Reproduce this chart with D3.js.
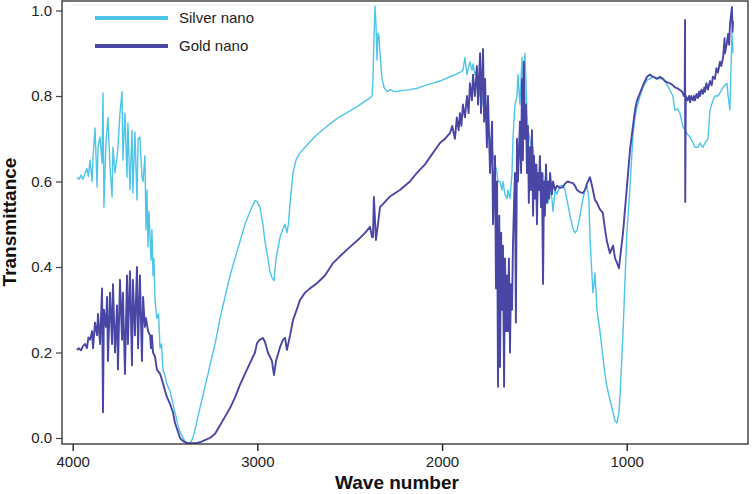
<!DOCTYPE html>
<html>
<head>
<meta charset="utf-8">
<script src="https://cdn.jsdelivr.net/npm/d3@7"></script>
<style>
  html, body { margin: 0; padding: 0; background: #fff; }
  svg { display: block; font-family: "Liberation Sans", Arial, sans-serif; }
</style>
</head>
<body>
<svg id="chart" width="752" height="494"></svg>
<script>
// ---------- DATA ----------
const seriesNames = ["Silver nano", "Gold nano"];
const xTicks = [4000, 3000, 2000, 1000];
const yTicks = [0.0, 0.2, 0.4, 0.6, 0.8, 1.0];

// [wave number, transmittance]
const silverData = [
[3977,0.61],[3965,0.605],[3955,0.615],[3945,0.605],[3933,0.62],[3923,0.63],[3915,0.612],[3906,0.65],
[3895,0.60],[3890,0.657],[3879,0.725],[3868,0.587],[3863,0.68],[3852,0.704],[3841,0.643],[3836,0.807],
[3831,0.54],[3820,0.69],[3809,0.75],[3798,0.634],[3787,0.564],[3782,0.68],[3771,0.62],[3760,0.657],
[3755,0.68],[3744,0.76],[3733,0.81],[3728,0.65],[3717,0.76],[3706,0.61],[3701,0.737],[3690,0.58],
[3679,0.72],[3674,0.573],[3663,0.716],[3652,0.557],[3646,0.70],[3636,0.704],[3625,0.61],[3619,0.60],
[3609,0.66],[3603,0.487],[3598,0.58],[3592,0.447],[3587,0.53],[3576,0.416],[3571,0.487],[3565,0.38],
[3560,0.42],[3554,0.32],[3544,0.28],[3535,0.29],[3527,0.21],[3519,0.22],[3511,0.16],[3500,0.145],
[3489,0.125],[3473,0.11],[3457,0.08],[3446,0.06],[3430,0.03],[3419,0.015],[3408,0.005],[3392,-0.008],
[3376,-0.012],[3365,-0.012],[3354,-0.005],[3343,0.01],[3332,0.03],[3322,0.05],[3311,0.07],[3294,0.10],
[3284,0.12],[3267,0.15],[3257,0.17],[3229,0.22],[3202,0.28],[3175,0.33],[3148,0.38],[3121,0.42],
[3094,0.46],[3067,0.50],[3040,0.53],[3024,0.545],[3013,0.555],[3002,0.553],[2986,0.54],[2970,0.50],
[2959,0.46],[2943,0.42],[2932,0.39],[2921,0.375],[2910,0.368],[2899,0.42],[2877,0.47],[2861,0.49],
[2850,0.50],[2840,0.48],[2832,0.50],[2823,0.55],[2807,0.62],[2791,0.65],[2769,0.667],[2742,0.68],
[2715,0.693],[2677,0.71],[2634,0.725],[2591,0.74],[2553,0.752],[2498,0.765],[2471,0.772],[2444,0.78],
[2417,0.788],[2390,0.795],[2379,0.80],[2374,0.84],[2369,0.93],[2363,1.01],[2358,0.97],[2352,0.884],
[2347,0.947],[2341,0.94],[2336,0.90],[2325,0.84],[2314,0.82],[2298,0.81],[2282,0.815],[2255,0.81],
[2228,0.812],[2174,0.815],[2136,0.818],[2092,0.825],[2049,0.83],[2011,0.835],[1984,0.84],[1957,0.845],
[1930,0.85],[1903,0.855],[1887,0.86],[1876,0.89],[1865,0.85],[1849,0.88],[1838,0.86],[1832,0.875],
[1822,0.85],[1811,0.86],[1805,0.83],[1794,0.80],[1789,0.82],[1778,0.78],[1767,0.76],[1757,0.74],
[1751,0.72],[1740,0.70],[1729,0.68],[1724,0.66],[1713,0.64],[1702,0.62],[1697,0.60],[1686,0.60],
[1675,0.58],[1670,0.60],[1659,0.57],[1648,0.56],[1643,0.58],[1632,0.56],[1621,0.62],[1616,0.70],
[1605,0.78],[1594,0.80],[1589,0.85],[1578,0.78],[1567,0.89],[1562,0.80],[1551,0.90],[1540,0.76],
[1535,0.72],[1524,0.70],[1513,0.66],[1507,0.68],[1497,0.62],[1486,0.64],[1481,0.60],[1470,0.60],
[1459,0.56],[1453,0.62],[1443,0.58],[1432,0.60],[1426,0.55],[1415,0.58],[1405,0.56],[1399,0.53],
[1388,0.58],[1378,0.57],[1361,0.59],[1345,0.59],[1334,0.58],[1320,0.55],[1307,0.52],[1291,0.49],
[1280,0.48],[1269,0.485],[1253,0.52],[1237,0.56],[1226,0.58],[1215,0.59],[1205,0.56],[1199,0.47],
[1188,0.38],[1183,0.34],[1177,0.36],[1172,0.386],[1166,0.34],[1161,0.30],[1145,0.25],[1129,0.19],
[1118,0.15],[1107,0.12],[1091,0.09],[1074,0.06],[1063,0.04],[1053,0.035],[1042,0.06],[1036,0.10],
[1020,0.245],[1010,0.36],[999,0.48],[982,0.587],[966,0.71],[955,0.75],[944,0.774],[928,0.80],
[912,0.82],[890,0.837],[874,0.84],[858,0.845],[836,0.843],[820,0.84],[804,0.842],[793,0.835],
[780,0.825],[766,0.814],[750,0.80],[739,0.767],[725,0.77],[712,0.76],[695,0.727],[684,0.72],
[670,0.71],[657,0.704],[641,0.69],[630,0.68],[614,0.68],[603,0.69],[587,0.68],[576,0.69],
[560,0.70],[549,0.767],[533,0.79],[522,0.80],[506,0.80],[495,0.807],[478,0.82],[468,0.825],
[457,0.83],[451,0.80],[441,0.767],[435,0.868],[430,0.947],[424,0.90]
];

const goldData = [
[3977,0.206],[3967,0.21],[3955,0.205],[3945,0.215],[3933,0.22],[3923,0.21],[3915,0.235],[3906,0.23],
[3895,0.25],[3890,0.21],[3879,0.27],[3868,0.24],[3863,0.29],[3852,0.22],[3841,0.35],[3836,0.06],
[3831,0.30],[3820,0.26],[3814,0.33],[3809,0.18],[3798,0.34],[3787,0.22],[3782,0.36],[3771,0.20],
[3760,0.31],[3755,0.16],[3744,0.37],[3733,0.23],[3728,0.34],[3717,0.15],[3706,0.38],[3701,0.22],
[3690,0.39],[3679,0.17],[3674,0.37],[3663,0.24],[3652,0.40],[3646,0.21],[3636,0.38],[3625,0.18],
[3619,0.33],[3609,0.26],[3603,0.28],[3592,0.25],[3581,0.24],[3576,0.21],[3571,0.24],[3565,0.20],
[3554,0.19],[3544,0.16],[3527,0.15],[3511,0.128],[3500,0.11],[3489,0.095],[3473,0.08],[3457,0.06],
[3446,0.035],[3430,0.015],[3419,0.0],[3408,-0.005],[3392,-0.01],[3376,-0.012],[3354,-0.012],[3332,-0.012],
[3311,-0.01],[3284,-0.005],[3257,0.0],[3229,0.01],[3202,0.03],[3175,0.05],[3148,0.07],[3121,0.095],
[3094,0.125],[3067,0.15],[3040,0.175],[3013,0.20],[3002,0.222],[2986,0.23],[2970,0.234],[2959,0.225],
[2943,0.20],[2921,0.18],[2910,0.147],[2899,0.18],[2877,0.213],[2861,0.23],[2850,0.234],[2840,0.206],
[2823,0.24],[2807,0.276],[2791,0.295],[2769,0.323],[2742,0.34],[2715,0.35],[2677,0.362],[2634,0.38],
[2591,0.409],[2553,0.425],[2498,0.447],[2444,0.468],[2417,0.48],[2390,0.494],[2379,0.47],[2374,0.47],
[2369,0.564],[2358,0.463],[2347,0.50],[2336,0.54],[2314,0.55],[2282,0.565],[2228,0.58],[2174,0.60],
[2136,0.62],[2092,0.64],[2049,0.667],[2011,0.69],[1984,0.70],[1957,0.713],[1945,0.73],[1930,0.70],
[1920,0.75],[1910,0.72],[1903,0.76],[1895,0.73],[1887,0.78],[1876,0.75],[1865,0.80],[1856,0.76],
[1849,0.83],[1838,0.79],[1832,0.85],[1822,0.80],[1811,0.87],[1805,0.78],[1794,0.90],[1789,0.76],
[1778,0.91],[1772,0.74],[1767,0.84],[1757,0.68],[1751,0.80],[1740,0.62],[1729,0.74],[1724,0.50],
[1713,0.66],[1708,0.35],[1702,0.60],[1697,0.12],[1690,0.52],[1686,0.166],[1680,0.48],[1675,0.30],
[1670,0.45],[1664,0.12],[1659,0.42],[1652,0.25],[1648,0.38],[1643,0.25],[1638,0.42],[1632,0.20],
[1627,0.36],[1621,0.30],[1616,0.45],[1610,0.55],[1605,0.62],[1600,0.27],[1594,0.70],[1589,0.60],
[1578,0.74],[1572,0.62],[1567,0.84],[1562,0.65],[1557,0.88],[1551,0.70],[1546,0.78],[1540,0.62],
[1535,0.73],[1530,0.55],[1524,0.68],[1518,0.58],[1513,0.72],[1507,0.52],[1502,0.66],[1497,0.56],
[1491,0.64],[1486,0.50],[1481,0.62],[1475,0.58],[1470,0.66],[1464,0.54],[1459,0.62],[1453,0.36],
[1448,0.60],[1443,0.52],[1437,0.64],[1432,0.55],[1426,0.60],[1420,0.56],[1415,0.62],[1405,0.57],
[1399,0.60],[1388,0.58],[1378,0.59],[1361,0.585],[1345,0.587],[1334,0.595],[1320,0.60],[1307,0.598],
[1291,0.596],[1280,0.59],[1269,0.58],[1253,0.575],[1237,0.573],[1226,0.58],[1215,0.595],[1199,0.61],
[1188,0.59],[1172,0.557],[1161,0.55],[1145,0.535],[1129,0.526],[1118,0.49],[1107,0.46],[1091,0.432],
[1074,0.45],[1063,0.42],[1053,0.41],[1042,0.397],[1036,0.42],[1020,0.48],[999,0.587],[982,0.674],
[966,0.73],[955,0.767],[944,0.79],[928,0.807],[912,0.825],[890,0.845],[874,0.85],[858,0.845],
[836,0.84],[820,0.845],[804,0.84],[793,0.835],[780,0.832],[766,0.83],[750,0.825],[739,0.82],
[725,0.818],[712,0.814],[700,0.81],[690,0.80],[686,0.80],[684,0.978],[683,0.552],[680,0.80],
[670,0.79],[662,0.80],[657,0.785],[650,0.80],[641,0.79],[635,0.80],[630,0.79],[622,0.805],
[614,0.795],[608,0.81],[603,0.80],[595,0.815],[587,0.805],[580,0.82],[576,0.81],[568,0.83],
[560,0.815],[549,0.835],[540,0.825],[533,0.845],[522,0.84],[514,0.865],[506,0.855],[495,0.88],
[488,0.87],[478,0.89],[470,0.935],[468,0.90],[457,0.925],[451,0.945],[445,0.92],[441,0.965],
[435,0.99],[430,1.008],[427,0.95],[424,0.975]
];

const colors = ["#4fc4e9", "#4a46a6"];

// ---------- LAYOUT ----------
const svg = d3.select("#chart");
const plot = { left: 62, right: 748, top: 1, bottom: 444 };

const x = d3.scaleLinear().domain([4000, 1000]).range([72.7, 626.7]);
const y = d3.scaleLinear().domain([0, 1]).range([438, 10.5]);

svg.append("defs").append("clipPath").attr("id", "clip")
  .append("rect")
  .attr("x", plot.left).attr("y", plot.top)
  .attr("width", plot.right - plot.left).attr("height", plot.bottom - plot.top);

// faint inner top line
svg.append("line")
  .attr("x1", 72).attr("x2", 737).attr("y1", 5).attr("y2", 5)
  .attr("stroke", "#ececec").attr("stroke-width", 1);

const line = d3.line().x(d => x(d[0])).y(d => y(d[1]));

const g = svg.append("g").attr("clip-path", "url(#clip)");
g.append("path").datum(silverData)
  .attr("d", line).attr("fill", "none")
  .attr("stroke", colors[0]).attr("stroke-width", 1.4).attr("stroke-linejoin", "round");
g.append("path").datum(goldData)
  .attr("d", line).attr("fill", "none")
  .attr("stroke", colors[1]).attr("stroke-width", 1.9).attr("stroke-linejoin", "round");

// frame
svg.append("rect")
  .attr("x", plot.left).attr("y", plot.top)
  .attr("width", plot.right - plot.left).attr("height", plot.bottom - plot.top)
  .attr("fill", "none").attr("stroke", "#3a3a3a").attr("stroke-width", 1.4);

// x axis
const xAxis = d3.axisBottom(x).tickValues(xTicks).tickFormat(d3.format("d"))
  .tickSizeInner(7).tickSizeOuter(0).tickPadding(5);
const gx = svg.append("g").attr("transform", `translate(0,${plot.bottom})`).call(xAxis);
gx.select(".domain").remove();
gx.selectAll(".tick line").attr("stroke", "#222").attr("stroke-width", 1.4);
gx.selectAll(".tick text").attr("font-size", 15).attr("fill", "#222")
  .attr("font-family", "'Liberation Sans', Arial, sans-serif");

// y axis
const yAxis = d3.axisLeft(y).tickValues(yTicks).tickFormat(d3.format(".1f"))
  .tickSizeInner(6).tickSizeOuter(0).tickPadding(4);
const gy = svg.append("g").attr("transform", `translate(${plot.left},0)`).call(yAxis);
gy.select(".domain").remove();
gy.selectAll(".tick line").attr("stroke", "#444").attr("stroke-width", 1.2);
gy.selectAll(".tick text").attr("font-size", 15).attr("fill", "#222")
  .attr("font-family", "'Liberation Sans', Arial, sans-serif");

// axis titles
svg.append("text")
  .attr("x", 397).attr("y", 489)
  .attr("text-anchor", "middle")
  .attr("font-size", 19).attr("font-weight", "bold").attr("fill", "#111")
  .text("Wave number");
svg.append("text")
  .attr("transform", "translate(16,222) rotate(-90)")
  .attr("text-anchor", "middle")
  .attr("font-size", 19).attr("font-weight", "bold").attr("fill", "#111")
  .text("Transmittance");

// legend
const legend = svg.append("g");
seriesNames.forEach((name, i) => {
  const ly = 18 + i * 28;
  legend.append("line")
    .attr("x1", 95).attr("x2", 168).attr("y1", ly).attr("y2", ly)
    .attr("stroke", colors[i]).attr("stroke-width", 4);
  legend.append("text")
    .attr("x", 179).attr("y", ly).attr("dy", "0.35em")
    .attr("font-size", 15).attr("fill", "#222")
    .text(name);
});
</script>
</body>
</html>
